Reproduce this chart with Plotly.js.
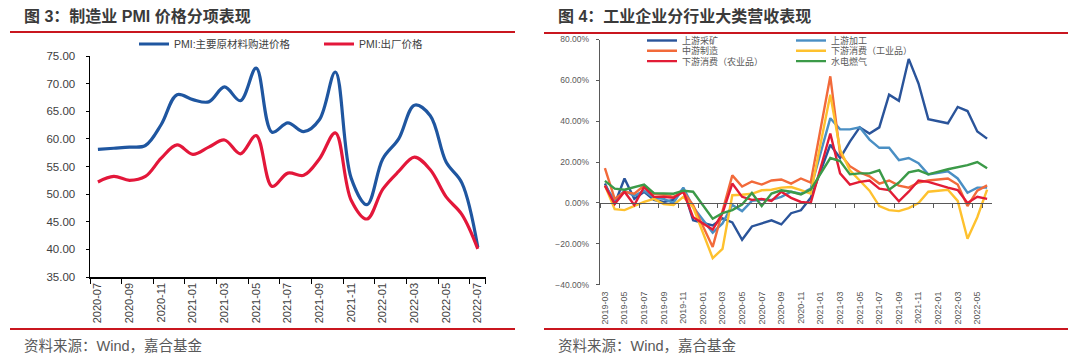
<!DOCTYPE html>
<html><head><meta charset="utf-8">
<script src="https://cdn.plot.ly/plotly-3.0.1.min.js"></script>
<style>html,body{margin:0;padding:0;background:#fff;} #chart{width:1080px;height:361px;}</style>
</head><body><div id="chart"></div>
<script>
// ---------- Chart 3: PMI price sub-indices ----------
const pmiMonths = ['2020-07','2020-08','2020-09','2020-10','2020-11','2020-12','2021-01','2021-02','2021-03','2021-04','2021-05','2021-06','2021-07','2021-08','2021-09','2021-10','2021-11','2021-12','2022-01','2022-02','2022-03','2022-04','2022-05','2022-06','2022-07'];
const pmiInputPrice  = [58.1,58.3,58.5,58.8,62.6,68.0,67.1,66.7,69.4,66.9,72.8,61.2,62.9,61.3,63.5,72.1,52.9,48.1,56.4,60.0,66.1,64.2,55.8,52.0,40.4];
const pmiOutputPrice = [52.2,53.2,52.5,53.2,56.5,58.9,57.2,58.5,59.8,57.3,60.6,51.4,53.8,53.4,56.4,61.1,48.9,45.5,50.9,54.1,56.7,54.4,49.5,46.3,40.1];
const pmiNames = ['PMI:主要原材料购进价格','PMI:出厂价格'];

// ---------- Chart 4: industrial revenue by sector ----------
const revMonths = ['2019-03','2019-04','2019-05','2019-06','2019-07','2019-08','2019-09','2019-10','2019-11','2019-12',
  '2020-01','2020-02','2020-03','2020-04','2020-05','2020-06','2020-07','2020-08','2020-09','2020-10','2020-11','2020-12',
  '2021-01','2021-02','2021-03','2021-04','2021-05','2021-06','2021-07','2021-08','2021-09','2021-10','2021-11','2021-12',
  '2022-01','2022-02','2022-03','2022-04','2022-05','2022-06'];
const upMining    = [9.5,-0.5,12,2,5.5,1.5,0.5,1.5,7,-8.5, null,-11,-7.5,-9.5,-18,-11.5,-10,-8.5,-10.5,-5,-3.6,2.5, null,28.5,22,30,37,34,37,53,50,70.5,58.5,41, null,39,47,45,35,31.5];
const upProcess   = [8.5,1.5,6,3.5,6,2.5,2,0,7.5,-2, null,-14.5,-10,-1,-4,1,1.5,1.5,3,5.5,4.5,7, null,41.5,36,36,37,31,27,27,21,22,19.5,14, null,15.5,12,5,7.5,7.5];
const midMfg      = [17,2,5.5,4.5,8.5,4.5,4,3,5.5,-1, null,-21.5,-4,13.5,8,10.5,9,11,11.5,9.5,12,10, null,62,24,18,15,13,9.5,11,8.5,7.5,10,11, null,12,9,-1.5,6,8.6];
const downInd     = [8.5,-3,-3.5,-1.5,0.5,2,-0.5,-1,3,-2, null,-27,-22.5,3.8,4,4.5,6.2,6.5,7.5,7.8,6.3,4.6, null,53,26,16,11,6,-1.5,-3.5,-4,-2.5,0,5.5, null,6.5,1,-17.5,-7,6.5];
const downAgri    = [8.5,-0.5,5.5,-1,7.8,3,3,2.5,5.5,-7, null,-13,-5,9.5,3,1.5,2,1,5.5,2.5,0.5,0, null,34,14.5,9,10.3,11,7,6.3,0.8,5.5,11,10.3, null,7.5,6.3,0,3,2];
const utilities   = [10.8,7,6.5,7.8,9,4.8,4.8,4.5,6,5.5, null,-7.7,-5,-3.5,-0.8,4.9,-1.5,4.6,6.2,5.5,4.2,6.5, null,22,20.5,14,14.5,14.5,16,6.5,10,15,16,14, null,16.5,17.5,18.5,20,17];
const revNames  = ['上游采矿','上游加工','中游制造','下游消费（工业品）','下游消费（农业品）','水电燃气'];
const revSeries = [upMining, upProcess, midMfg, downInd, downAgri, utilities];
const revColors = ['#2a549a','#4a8fc4','#f26a3a','#fec12e','#e21c36','#3b9a48'];
const revLegendRow = ['legend2','legend2','legend3','legend3','legend4','legend4'];

const W = 1080, H = 361;
const px = v => v / W;           // pixel -> paper x
const py = v => 1 - v / H;       // pixel -> paper y

const baseFont = "'Liberation Sans', Arial, 'Noto Sans CJK SC', sans-serif";
const cjkFont  = "'Liberation Sans', 'Noto Sans CJK SC', sans-serif";

// domains
const lx = [px(90), px(485.7)], ly = [py(277), py(56)];
const rx = [px(600), px(992)],  ry = [py(284.7), py(39.5)];
const rRange = [-40, 80];
const zeroPos = ry[0] + (0 - rRange[0]) / (rRange[1] - rRange[0]) * (ry[1] - ry[0]);

const traces = [
  {x: pmiMonths, y: pmiInputPrice, name: pmiNames[0], type: 'scatter', mode: 'lines',
   line: {color: '#1f56a0', width: 3.2, shape: 'spline', smoothing: 1}, xaxis: 'x', yaxis: 'y', legend: 'legend'},
  {x: pmiMonths, y: pmiOutputPrice, name: pmiNames[1], type: 'scatter', mode: 'lines',
   line: {color: '#e3173a', width: 3.2, shape: 'spline', smoothing: 1}, xaxis: 'x', yaxis: 'y', legend: 'legend'}
];
revSeries.forEach((s, k) => {
  traces.push({x: revMonths, y: s, name: revNames[k], type: 'scatter', mode: 'lines', connectgaps: true,
    line: {color: revColors[k], width: 2.4}, xaxis: 'x2', yaxis: 'y2', legend: revLegendRow[k]});
});
// carrier trace for the zero-crossing category axis of chart 4
traces.push({x: revMonths, y: revMonths.map(() => null), xaxis: 'x3', yaxis: 'y2', mode: 'lines',
  showlegend: false, hoverinfo: 'skip'});

const legendCommon = {orientation: 'h', xanchor: 'left', yanchor: 'middle', bgcolor: 'rgba(0,0,0,0)',
  borderwidth: 0, entrywidthmode: 'pixels', traceorder: 'normal'};

const layout = {
  width: W, height: H,
  margin: {l: 0, r: 0, t: 0, b: 0},
  paper_bgcolor: '#fff', plot_bgcolor: '#fff',
  font: {family: baseFont, color: '#404040'},
  showlegend: true,
  legend:  Object.assign({}, legendCommon, {x: px(134), y: py(44), entrywidth: 140, font: {size: 10.5, color: '#404040', family: cjkFont}}),
  legend2: Object.assign({}, legendCommon, {x: px(642), y: py(40.5), entrywidth: 104, font: {size: 9, color: '#595959', family: cjkFont}}),
  legend3: Object.assign({}, legendCommon, {x: px(642), y: py(50.8), entrywidth: 104, font: {size: 9, color: '#595959', family: cjkFont}}),
  legend4: Object.assign({}, legendCommon, {x: px(642), y: py(61.1), entrywidth: 104, font: {size: 9, color: '#595959', family: cjkFont}}),
  xaxis: {domain: lx, anchor: 'y', type: 'category', range: [-0.5, pmiMonths.length - 0.5],
    tickmode: 'array', tickvals: pmiMonths.filter((_, i) => i % 2 === 0),
    tickangle: -90, ticks: 'outside', ticklen: 5, tickwidth: 1, tickcolor: '#000', tickson: 'boundaries',
    showline: true, linecolor: '#000', linewidth: 1.5, showgrid: false, zeroline: false,
    tickfont: {size: 11, color: '#404040'}, fixedrange: true},
  yaxis: {domain: ly, anchor: 'x', range: [35, 75], dtick: 5, tick0: 35, tickformat: '.2f',
    ticks: 'outside', ticklen: 3, tickcolor: '#000', showline: true, linecolor: '#000', linewidth: 1.5,
    showgrid: false, zeroline: false, ticklabelstandoff: 8, tickfont: {size: 11.5, color: '#404040'}, fixedrange: true},
  xaxis2: {domain: rx, anchor: 'y2', type: 'category', range: [-0.5, revMonths.length - 0.5],
    tickmode: 'array', tickvals: revMonths.filter((_, i) => i % 2 === 0), tickangle: -90,
    ticks: '', showline: false, showgrid: false, zeroline: false, ticklabelstandoff: 4,
    tickfont: {size: 9, color: '#595959'}, fixedrange: true},
  xaxis3: {overlaying: 'x2', anchor: 'free', position: zeroPos, type: 'category',
    range: [-0.5, revMonths.length - 0.5], tickmode: 'array', tickvals: revMonths.filter((_, i) => i % 2 === 0),
    ticks: 'outside', ticklen: 4, tickcolor: '#595959', tickson: 'boundaries', showticklabels: false,
    showline: true, linecolor: '#595959', linewidth: 1.2, showgrid: false, zeroline: false, fixedrange: true},
  yaxis2: {domain: ry, anchor: 'x2', range: rRange, dtick: 20, tick0: -40, tickformat: '.2f', ticksuffix: '%',
    ticks: 'outside', ticklen: 3, tickcolor: '#595959', showline: true, linecolor: '#595959', linewidth: 1.2,
    showgrid: false, zeroline: false, ticklabelstandoff: 5, tickfont: {size: 8.5, color: '#595959'}, fixedrange: true},
  shapes: [
    {type: 'line', xref: 'paper', yref: 'paper', x0: px(10), x1: px(515), y0: py(32), y1: py(32), line: {color: '#c9161f', width: 2}},
    {type: 'line', xref: 'paper', yref: 'paper', x0: px(10), x1: px(515), y0: py(329), y1: py(329), line: {color: '#c9161f', width: 2}},
    {type: 'line', xref: 'paper', yref: 'paper', x0: px(544), x1: px(1068), y0: py(33), y1: py(33), line: {color: '#c9161f', width: 2}},
    {type: 'line', xref: 'paper', yref: 'paper', x0: px(544), x1: px(1068), y0: py(329), y1: py(329), line: {color: '#c9161f', width: 2}}
  ],
  annotations: [
    {text: '<b>图 3：制造业 PMI 价格分项表现</b>', xref: 'paper', yref: 'paper', x: px(22), y: py(15.5),
     xanchor: 'left', yanchor: 'middle', showarrow: false, font: {size: 16, color: '#3a3a3a', family: cjkFont}},
    {text: '<b>图 4：工业企业分行业大类营收表现</b>', xref: 'paper', yref: 'paper', x: px(556), y: py(15.5),
     xanchor: 'left', yanchor: 'middle', showarrow: false, font: {size: 16, color: '#3a3a3a', family: cjkFont}},
    {text: '资料来源：Wind，嘉合基金', xref: 'paper', yref: 'paper', x: px(22), y: py(346),
     xanchor: 'left', yanchor: 'middle', showarrow: false, font: {size: 14.5, color: '#595959', family: cjkFont}},
    {text: '资料来源：Wind，嘉合基金', xref: 'paper', yref: 'paper', x: px(556), y: py(346),
     xanchor: 'left', yanchor: 'middle', showarrow: false, font: {size: 14.5, color: '#595959', family: cjkFont}}
  ]
};

Plotly.newPlot('chart', traces, layout, {staticPlot: true, displayModeBar: false});
</script>
</body></html>
